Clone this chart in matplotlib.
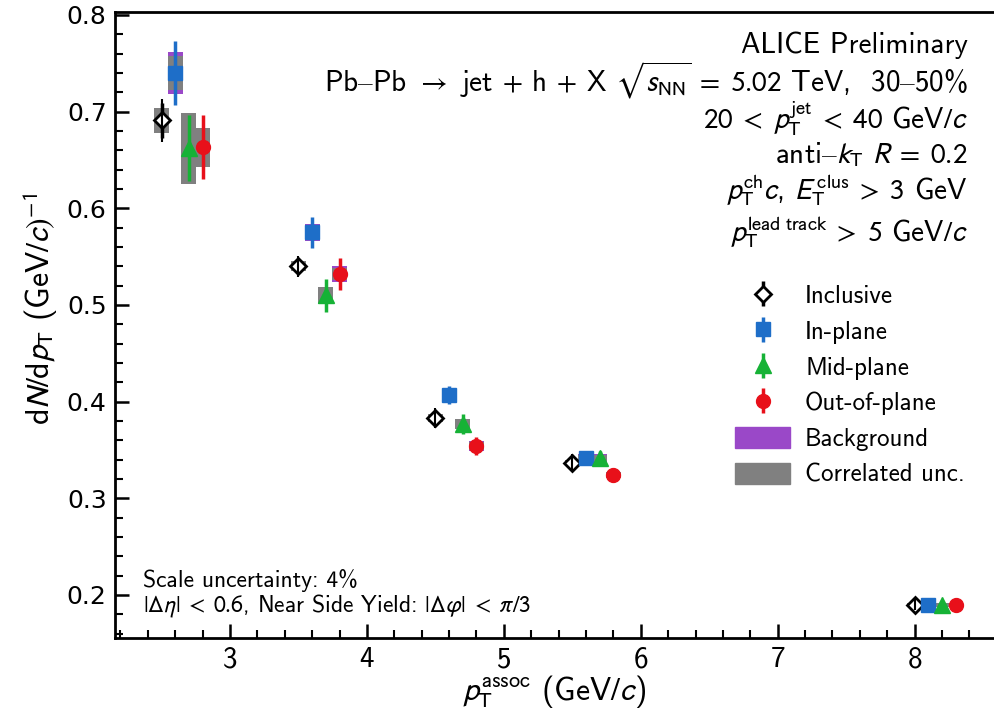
import matplotlib
matplotlib.use('Agg')
import matplotlib.pyplot as plt
from matplotlib.patches import Patch
from matplotlib.ticker import MultipleLocator

plt.rcParams['mathtext.fontset'] = 'stixsans'
plt.rcParams['axes.unicode_minus'] = False

SANS = ['cmss10', 'DejaVu Sans']

# data
pt_incl = [2.5, 3.5, 4.5, 5.5, 8.0]
pt_in = [2.6, 3.6, 4.6, 5.6, 8.1]
pt_mid = [2.7, 3.7, 4.7, 5.7, 8.2]
pt_out = [2.8, 3.8, 4.8, 5.8, 8.3]

y_incl = [0.691, 0.540, 0.383, 0.337, 0.190]
y_in = [0.740, 0.575, 0.407, 0.342, 0.190]
y_mid = [0.662, 0.510, 0.377, 0.342, 0.190]
y_out = [0.663, 0.532, 0.354, 0.324, 0.190]

stat_incl = [0.018, 0.007, 0.006, 0.005, 0.002]
stat_in = [0.033, 0.016, 0.009, 0.006, 0.003]
stat_mid = [0.034, 0.017, 0.010, 0.007, 0.003]
stat_out = [0.033, 0.017, 0.009, 0.007, 0.003]

corr_incl = [0.013, 0.005, 0.004, 0.003, 0.002]
corr_in = [0.018, 0.007, 0.004, 0.003, 0.002]
corr_mid = [0.037, 0.009, 0.005, 0.003, 0.002]
corr_out = [0.020, 0.006, 0.004, 0.003, 0.002]

bkg_incl = [0.003, 0.003, 0.002, 0.002, 0.001]
bkg_in = [0.022, 0.009, 0.005, 0.004, 0.002]
bkg_mid = [0.005, 0.006, 0.004, 0.004, 0.002]
bkg_out = [0.006, 0.008, 0.005, 0.003, 0.002]

c_blue = '#1e6ec8'
c_green = '#16b236'
c_red = '#e8101a'
c_purple = '#9a48c8'
c_gray = '#808080'

fig = plt.figure(figsize=(9.94, 7.18), dpi=100)
ax = fig.add_axes([115 / 994, 1 - 638 / 718, 879 / 994, 626 / 718])

series = [
    (pt_incl, y_incl, stat_incl, corr_incl, bkg_incl, 'black', 'D', 'Inclusive'),
    (pt_in, y_in, stat_in, corr_in, bkg_in, c_blue, 's', 'In-plane'),
    (pt_mid, y_mid, stat_mid, corr_mid, bkg_mid, c_green, '^', 'Mid-plane'),
    (pt_out, y_out, stat_out, corr_out, bkg_out, c_red, 'o', 'Out-of-plane'),
]

boxw = 0.11
for x, y, st, co, bk, col, mk, lab in series:
    ax.bar(x, [2 * b for b in bk], bottom=[v - b for v, b in zip(y, bk)],
           width=boxw, color=c_purple, zorder=1)
    ax.bar(x, [2 * c for c in co], bottom=[v - c for v, c in zip(y, co)],
           width=boxw, color=c_gray, zorder=2)

handles = []
for x, y, st, co, bk, col, mk, lab in series:
    if mk == 'D':
        h = ax.errorbar(x, y, yerr=st, fmt='D', color='black', mfc='white',
                        mec='black', mew=2, ms=8, elinewidth=2.5, capsize=0,
                        zorder=3, label=lab)
        # stat line drawn through the open diamond
        ax.errorbar(x, y, yerr=[s + 0.004 for s in st], fmt='none',
                    ecolor='black', elinewidth=1.5, capsize=0, zorder=4)
    else:
        ms = 10 if mk != '^' else 11
        h = ax.errorbar(x, y, yerr=st, fmt=mk, color=col, ms=ms,
                        elinewidth=2.5, capsize=0, zorder=3, label=lab)
    handles.append(h)

handles.append(Patch(color=c_purple, label='Background'))
handles.append(Patch(color=c_gray, label='Correlated unc.'))

ax.set_xlim(2.16, 8.58)
ax.set_ylim(0.1555, 0.803)

ax.xaxis.set_major_locator(MultipleLocator(1))
ax.xaxis.set_minor_locator(MultipleLocator(0.2))
ax.yaxis.set_major_locator(MultipleLocator(0.1))
ax.yaxis.set_minor_locator(MultipleLocator(0.02))
ax.tick_params(which='both', direction='in', top=False, right=False)
ax.tick_params(which='major', length=10, width=1.8)
ax.tick_params(which='minor', length=6, width=1.5)
ax.tick_params(axis='y', labelsize=18, pad=6)
ax.tick_params(axis='x', labelsize=21, pad=6)
for lbl in ax.get_xticklabels():
    lbl.set_family(SANS)
for lbl in ax.get_yticklabels():
    lbl.set_family('DejaVu Sans')

for s in ['left', 'bottom', 'top']:
    ax.spines[s].set_linewidth(2)
ax.spines['right'].set_visible(False)

ax.set_xlabel(r'$p_{\mathrm{T}}^{\mathrm{assoc}}$ (GeV$/c$)', fontsize=23, family=SANS, labelpad=0)
ax.set_ylabel(r'd$N/$d$p_{\mathrm{T}}$ (GeV$/c)^{-1}$', fontsize=23, family=SANS)
ax.yaxis.set_label_coords(-0.063, 0.526)

lines = [
    ('ALICE Preliminary', 45),
    (r'Pb$–$Pb $\rightarrow$ jet $+$ h $+$ X $\sqrt{s_{\mathrm{NN}}}\;=\;5.02$ TeV,  30$–$50%', 80),
    (r'$20\;<\;p_{\mathrm{T}}^{\mathrm{jet}}\;<\;40$ GeV$/c$', 118),
    (r'anti$–k_{\mathrm{T}}$ $R\;=\;0.2$', 155),
    (r'$p_{\mathrm{T}}^{\mathrm{ch}}c$, $E_{\mathrm{T}}^{\mathrm{clus}}\;>\;3$ GeV', 190),
    (r'$p_{\mathrm{T}}^{\mathrm{lead\ track}}\;>\;5$ GeV$/c$', 232),
]
for txt, ypix in lines:
    ax.text(0.970, (638 - ypix) / 626, txt, transform=ax.transAxes,
            ha='right', va='center', fontsize=21, family=SANS)

ax.text((143 - 115) / 879, (638 - 580) / 626, 'Scale uncertainty: 4%',
        transform=ax.transAxes, ha='left', va='center', fontsize=17, family=SANS)
ax.text((143 - 115) / 879, (638 - 606) / 626,
        r'$|\Delta\eta|\;<\;0.6$, Near Side Yield: $|\Delta\varphi|\;<\;\pi/3$',
        transform=ax.transAxes, ha='left', va='center', fontsize=17, family=SANS)

leg = ax.legend(handles=handles, loc='upper left',
                bbox_to_anchor=((735 - 115) / 879, (638 - 284) / 626),
                frameon=False, handlelength=2.2, handleheight=0.9,
                labelspacing=0.47, handletextpad=0.6, borderaxespad=0,
                borderpad=0, prop={'family': SANS, 'size': 18})

fig.savefig('out.png', dpi=100)
